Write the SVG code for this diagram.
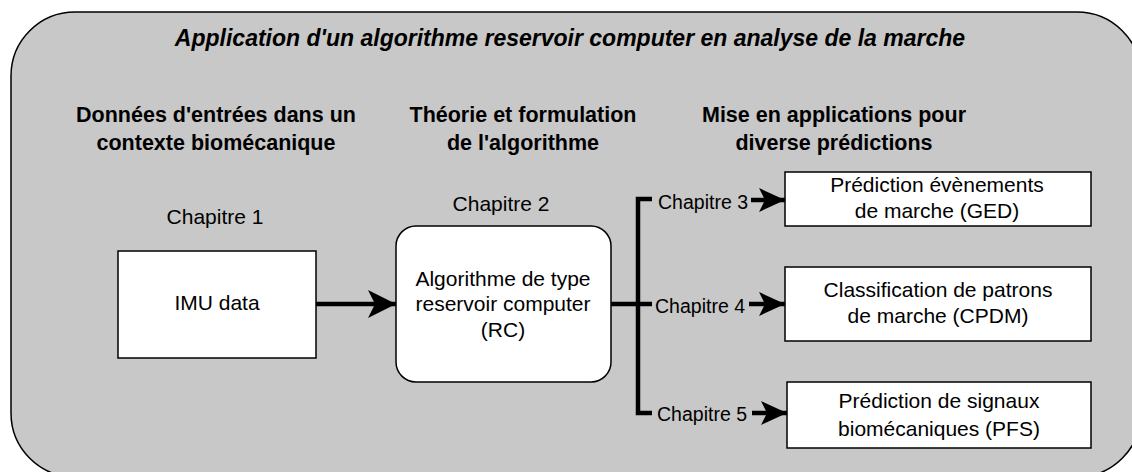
<svg xmlns="http://www.w3.org/2000/svg" width="1132" height="472" viewBox="0 0 1132 472">
<style>
text{font-family:"Liberation Sans",Arial,sans-serif;fill:#000;text-anchor:middle}
.t{font-size:23px;font-weight:bold;font-style:italic}
.h{font-size:21.5px;font-weight:bold}
.n{font-size:21px}
.s{font-size:19.5px}
.box{fill:#fff;stroke:#000;stroke-width:1.5}
.ln{fill:none;stroke:#000;stroke-width:4.5}
</style>
<defs>
<marker id="big" markerUnits="userSpaceOnUse" viewBox="0 0 28 28" refX="28" refY="14" markerWidth="28" markerHeight="28" orient="auto">
<path d="M0,0 L28,14 L0,28 L7,14 Z" fill="#000"/>
</marker>
<marker id="sm" markerUnits="userSpaceOnUse" viewBox="0 0 26 24" refX="26" refY="12" markerWidth="26" markerHeight="24" orient="auto">
<path d="M0,0 L26,12 L0,24 L6,12 Z" fill="#000"/>
</marker>
</defs>
<g id="background">
<rect x="11" y="12" width="1130" height="465" rx="64" ry="64" fill="#c8c8c8" stroke="#000" stroke-width="1.5"/>
<text class="t" x="570" y="46">Application d'un algorithme reservoir computer en analyse de la marche</text>
</g>
<g id="headers">
<text class="h" x="216" y="122">Données d'entrées dans un</text>
<text class="h" x="216" y="150">contexte biomécanique</text>
<text class="h" x="523" y="122">Théorie et formulation</text>
<text class="h" x="523" y="150">de l'algorithme</text>
<text class="h" x="834" y="122">Mise en applications pour</text>
<text class="h" x="834" y="150">diverse prédictions</text>
</g>
<g id="connectors">
<line class="ln" x1="316" y1="304" x2="396" y2="304" marker-end="url(#big)" stroke-width="5"/>
<line class="ln" x1="611" y1="304" x2="640" y2="304"/>
<polyline class="ln" points="652,199 638,199 638,413 652,413"/>
<line class="ln" x1="638" y1="304" x2="652" y2="304"/>
<line class="ln" x1="751" y1="200" x2="785" y2="200" marker-end="url(#sm)" stroke-width="4"/>
<line class="ln" x1="749" y1="304" x2="785" y2="304" marker-end="url(#sm)" stroke-width="4"/>
<line class="ln" x1="752" y1="413" x2="787" y2="413" marker-end="url(#sm)" stroke-width="4"/>
<text class="s" x="703" y="209">Chapitre 3</text>
<text class="s" x="700" y="313">Chapitre 4</text>
<text class="s" x="702" y="421">Chapitre 5</text>
</g>
<g id="imu">
<text class="n" x="215" y="224">Chapitre 1</text>
<rect class="box" x="118" y="251" width="198" height="107"/>
<text class="n" x="217" y="310">IMU data</text>
</g>
<g id="rc">
<text class="n" x="501" y="211">Chapitre 2</text>
<rect class="box" x="396" y="226" width="215" height="156" rx="20" ry="20"/>
<text class="n" x="503" y="286">Algorithme de type</text>
<text class="n" x="503" y="311">reservoir computer</text>
<text class="n" x="503" y="337">(RC)</text>
</g>
<g id="ged">
<rect class="box" x="785" y="172" width="306" height="54"/>
<text class="n" x="937" y="192">Prédiction évènements</text>
<text class="n" x="937" y="218">de marche (GED)</text>
</g>
<g id="cpdm">
<rect class="box" x="785" y="267" width="306" height="74"/>
<text class="n" x="938" y="297">Classification de patrons</text>
<text class="n" x="938" y="323">de marche (CPDM)</text>
</g>
<g id="pfs">
<rect class="box" x="787" y="382" width="304" height="66"/>
<text class="n" x="939" y="408">Prédiction de signaux</text>
<text class="n" x="939" y="436">biomécaniques (PFS)</text>
</g>
</svg>
